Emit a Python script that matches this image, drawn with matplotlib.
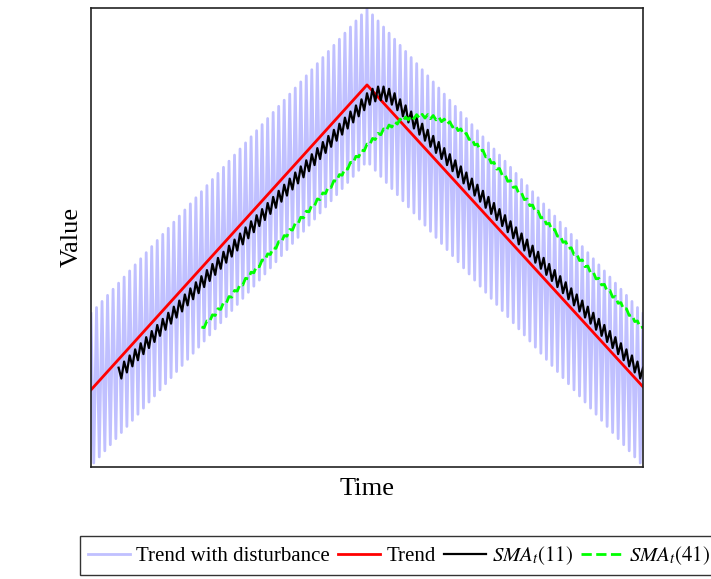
import numpy as np
import pandas as pd
import matplotlib
matplotlib.use("Agg")
import matplotlib.pyplot as plt

plt.rcParams['font.family'] = ['Liberation Serif', 'DejaVu Serif']
plt.rcParams['mathtext.fontset'] = 'stix'

# serie con perturbacion (un valor por instante)
serie = [50, 1, 52, 3, 54, 5, 56, 7, 58, 9, 60, 11, 62, 13, 64, 15, 66, 17, 68, 19,
         70, 21, 72, 23, 74, 25, 76, 27, 78, 29, 80, 31, 82, 33, 84, 35, 86, 37, 88, 39,
         90, 41, 92, 43, 94, 45, 96, 47, 98, 49, 100, 51, 102, 53, 104, 55, 106, 57, 108, 59,
         110, 61, 112, 63, 114, 65, 116, 67, 118, 69, 120, 71, 122, 73, 124, 75, 126, 77, 128, 79,
         130, 81, 132, 83, 134, 85, 136, 87, 138, 89, 140, 91, 142, 93, 144, 95, 146, 97, 148, 99,
         150,
         99, 148, 97, 146, 95, 144, 93, 142, 91, 140, 89, 138, 87, 136, 85, 134, 83, 132, 81, 130,
         79, 128, 77, 126, 75, 124, 73, 122, 71, 120, 69, 118, 67, 116, 65, 114, 63, 112, 61, 110,
         59, 108, 57, 106, 55, 104, 53, 102, 51, 100, 49, 98, 47, 96, 45, 94, 43, 92, 41, 90,
         39, 88, 37, 86, 35, 84, 33, 82, 31, 80, 29, 78, 27, 76, 25, 74, 23, 72, 21, 70,
         19, 68, 17, 66, 15, 64, 13, 62, 11, 60, 9, 58, 7, 56, 5, 54, 3, 52, 1, 50]

# tendencia (tres puntos: inicio, pico, final)
tend_t = [0, 100, 200]
tend_v = [25, 125, 26]

ventanas = [11, 41]

t = np.arange(len(serie))
s = pd.Series(serie, index=t)
sma11 = s.rolling(ventanas[0]).mean()
sma41 = s.rolling(ventanas[1]).mean()

fig = plt.figure(figsize=(7.11, 5.79), dpi=100)
ax = fig.add_axes([91 / 711, 1 - 467 / 579, 552 / 711, 459.5 / 579])

ax.plot(t, serie, color="#c0c0ff", linewidth=2.0, label="Trend with disturbance")
ax.plot(tend_t, tend_v, color="red", linewidth=2.0, label="Trend")
ax.plot(t, sma11, color="black", linewidth=1.6, label=r"$SMA_t(11)$")
ax.plot(t, sma41, color="#00ff00", linewidth=2.0, linestyle="--", label=r"$SMA_t(41)$")

ax.set_xlim(0, 200)
ax.set_ylim(-0.3, 150.4)
ax.set_xticks([])
ax.set_yticks([])
for sp in ax.spines.values():
    sp.set_linewidth(1.2)
    sp.set_color("#222222")

ax.set_xlabel("Time", fontsize=19, labelpad=8)
ax.set_ylabel("Value", fontsize=19, labelpad=6)

fig.legend(loc="upper left", bbox_to_anchor=(80 / 711, 1 - 536 / 579), ncol=4,
           fontsize=15, frameon=True, fancybox=False, edgecolor="#333333",
           framealpha=1, borderaxespad=0, handlelength=2.0, handletextpad=0.3,
           columnspacing=0.4)

fig.savefig("out.png", dpi=100)
